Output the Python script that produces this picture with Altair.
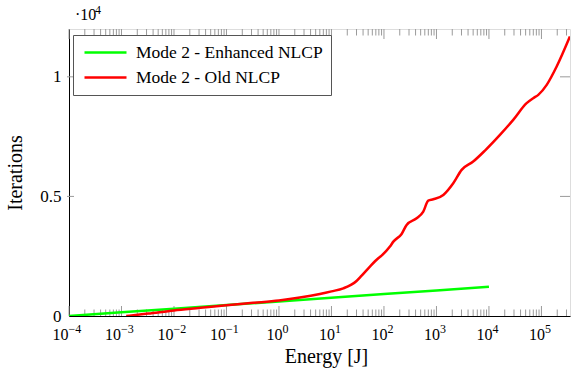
import altair as alt
import pandas as pd

# Enhanced NLCP: energy [J] vs. iterations
enhanced_energy = [1e-4, 1e-2, 1e0, 1e2, 1e4]
enhanced_iters = [0, 305, 610, 915, 1220]

# Old NLCP: energy [J] vs. iterations
old_energy = [1.23e-3, 3.2e-3, 1e-2, 3.2e-2, 1e-1, 3.2e-1, 1.0, 2.5, 6.0, 10.0,
              16.8, 30.0, 37.6, 54.0, 78.0, 90.0, 130.0, 151.0, 217.0, 270.0,
              419.0, 561.0, 698.0, 871.0, 1350.0, 2090.0, 3020.0, 5010.0, 8400.0,
              16200.0, 29000.0, 52200.0, 69800.0, 87100.0, 126000.0, 195000.0,
              349000.0]
old_iters = [0, 100, 230, 340, 450, 550, 650, 770, 920, 1030,
             1158, 1464, 1687, 2064, 2413, 2524, 2901, 3110, 3431, 3808,
             4086, 4365, 4826, 4881, 5063, 5551, 6109, 6457, 6918,
             7573, 8201, 8898, 9107, 9247, 9665, 10432,
             11688]

series_names = ["Mode 2 - Enhanced NLCP", "Mode 2 - Old NLCP"]
series_colors = ["#00ff00", "#ff0000"]

x_domain = [1e-4, 3.5e5]
y_domain = [0, 12000]
x_decades = list(range(-4, 6))
x_minor_factors = [2, 3, 4, 5, 6, 7, 8, 9]
y_tick_values = [0, 5000, 10000]
y_multiplier_exp = "4"

W, H = 501, 287
SERIF = "'Liberation Serif', 'Times New Roman', serif"
TICK_GRAY = "#9a9a9a"

lines = pd.concat([
    pd.DataFrame({"energy": enhanced_energy, "iters": enhanced_iters, "series": series_names[0]}),
    pd.DataFrame({"energy": old_energy, "iters": old_iters, "series": series_names[1]}),
])

major = [10.0 ** k for k in x_decades]
minor = [f * 10.0 ** k for k in x_decades for f in x_minor_factors if f * 10.0 ** k <= x_domain[1]]
major_df = pd.DataFrame({"energy": major})
minor_df = pd.DataFrame({"energy": minor})
yticks_df = pd.DataFrame({"iters": y_tick_values[1:]})

# decade labels 10^k, drawn as base "10" plus a raised exponent
decade_labels = pd.DataFrame({
    "energy": major,
    "exp": [str(k).replace("-", "\u2212") for k in x_decades],
    "neg": [k < 0 for k in x_decades],
})

x_enc = alt.X(
    "energy:Q",
    scale=alt.Scale(type="log", domain=x_domain, nice=False),
    axis=alt.Axis(
        values=major, ticks=False, grid=False, labels=False,
        domainColor="black", domainWidth=1,
        title="Energy [J]", titleFont=SERIF, titleFontSize=20, titleFontWeight="normal",
        titleColor="black", titlePadding=30, titleX=257,
    ),
)
y_enc = alt.Y(
    "iters:Q",
    scale=alt.Scale(domain=y_domain, nice=False),
    axis=alt.Axis(
        values=y_tick_values, ticks=False, grid=False,
        labelExpr="datum.value / 10000 + ''",
        labelFont=SERIF, labelFontSize=17, labelColor="black", labelPadding=8,
        domainColor="black", domainWidth=1,
        title="Iterations", titleFont=SERIF, titleFontSize=20, titleFontWeight="normal",
        titleColor="black", titlePadding=14,
    ),
)

curves = alt.Chart(lines).mark_line(strokeWidth=2.5, clip=True, interpolate="monotone").encode(
    x=x_enc,
    y=y_enc,
    color=alt.Color(
        "series:N",
        scale=alt.Scale(domain=series_names, range=series_colors),
        legend=alt.Legend(
            title=None, orient="none", legendX=4, legendY=6,
            padding=8, clipHeight=19, rowPadding=6,
            symbolType="stroke", symbolSize=1764, symbolStrokeWidth=2.5, symbolOffset=2,
            labelFont=SERIF, labelFontSize=17.5, labelColor="black", labelOffset=8,
            labelLimit=400, strokeColor="#555555", fillColor="white",
        ),
    ),
)

def xticks(df, length):
    bottom = alt.Chart(df).mark_rule(color=TICK_GRAY, strokeWidth=1).encode(
        x=alt.X("energy:Q"), y=alt.value(H), y2=alt.value(H - length))
    top = alt.Chart(df).mark_rule(color=TICK_GRAY, strokeWidth=1).encode(
        x=alt.X("energy:Q"), y=alt.value(0), y2=alt.value(length))
    return bottom + top

yticks_left = alt.Chart(yticks_df).mark_rule(color=TICK_GRAY, strokeWidth=1).encode(
    y=alt.Y("iters:Q"), x=alt.value(-2), x2=alt.value(5))
yticks_right = alt.Chart(yticks_df).mark_rule(color=TICK_GRAY, strokeWidth=1).encode(
    y=alt.Y("iters:Q"), x=alt.value(W - 10), x2=alt.value(W))

def decade_text(neg, shift):
    src = alt.Chart(decade_labels).transform_filter(
        "datum.neg" if neg else "!datum.neg")
    base = src.mark_text(font=SERIF, fontSize=16, align="right", baseline="alphabetic",
                         dx=shift, color="black").encode(
        x=alt.X("energy:Q"), y=alt.value(H + 24), text=alt.value("10"))
    sup = src.mark_text(font=SERIF, fontSize=12, align="left", baseline="alphabetic",
                        dx=shift, color="black").encode(
        x=alt.X("energy:Q"), y=alt.value(H + 17), text="exp:N")
    return base + sup

# "·10^4" multiplier for the iteration axis, above the plot's top-left corner
multiplier = alt.layer(
    alt.Chart(pd.DataFrame({"t": ["\u00b710"]})).mark_text(
        font=SERIF, fontSize=16, align="left", baseline="alphabetic", color="black").encode(
        x=alt.value(6), y=alt.value(-9), text="t:N"),
    alt.Chart(pd.DataFrame({"t": [y_multiplier_exp]})).mark_text(
        font=SERIF, fontSize=12, align="left", baseline="alphabetic", color="black").encode(
        x=alt.value(26), y=alt.value(-15), text="t:N"),
)

chart = alt.layer(
    xticks(minor_df, 6.5), xticks(major_df, 10), yticks_left, yticks_right, curves,
    decade_text(True, -0.5), decade_text(False, 3.5), multiplier,
).properties(
    width=W, height=H,
    autosize=alt.AutoSizeParams(type="none"),
    padding={"left": 69, "top": 29, "right": 4, "bottom": 55},
).configure_view(stroke="#777777", strokeWidth=1).configure(background="white")

chart.save("out.html", embed_options={"renderer": "svg", "actions": False})
